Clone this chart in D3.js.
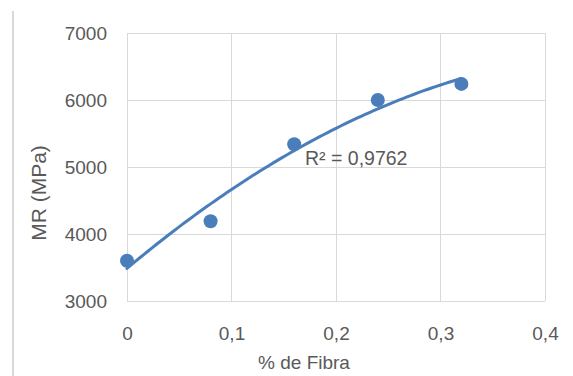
<!DOCTYPE html>
<html><head><meta charset="utf-8">
<script src="https://cdn.jsdelivr.net/npm/d3@7"></script>
<style>
html,body{margin:0;padding:0;background:#fff;}
text{font-family:"Liberation Sans",Arial,sans-serif;fill:#595959;}
</style></head>
<body><svg id="c" width="573" height="376"></svg>
<script>
const fibra = [0, 0.08, 0.16, 0.24, 0.32];
const mr = [3600, 4190, 5340, 6000, 6240];
const xTicks = [0, 0.1, 0.2, 0.3, 0.4];
const yTicks = [3000, 4000, 5000, 6000, 7000];
const r2Label = "R² = 0,9762";
const xTitle = "% de Fibra";
const yTitle = "MR (MPa)";

const svg = d3.select("#c");
const x = d3.scaleLinear().domain([0, 0.4]).range([127, 545]);
const y = d3.scaleLinear().domain([3000, 7000]).range([301, 33]);
const fmt = d => String(d).replace(".", ",");
const blue = "#4a7ebb", grid = "#d9d9d9";

// chart border fragment on the left
svg.append("line").attr("x1",13).attr("x2",13).attr("y1",11).attr("y2",376)
  .attr("stroke","#d9d9d9").attr("stroke-width",2);

// gridlines
svg.append("g").selectAll("line").data(yTicks).join("line")
  .attr("x1", x(0)).attr("x2", x(0.4)).attr("y1", d=>y(d)).attr("y2", d=>y(d))
  .attr("stroke", grid).attr("stroke-width",1).attr("shape-rendering","crispEdges");
svg.append("g").selectAll("line").data(xTicks).join("line")
  .attr("x1", d=>x(d)).attr("x2", d=>x(d)).attr("y1", y(3000)).attr("y2", y(7000))
  .attr("stroke", grid).attr("stroke-width",1).attr("shape-rendering","crispEdges");

// axes labels
const xAxis = d3.axisBottom(x).tickValues(xTicks).tickFormat(fmt).tickSize(0).tickPadding(0);
const gx = svg.append("g").attr("transform", `translate(0,${y(3000)})`).call(xAxis);
gx.select(".domain").remove();
gx.selectAll("text").attr("dy", null).attr("y", 39).attr("font-size", 19)
  .style("font-family", '"Liberation Sans",Arial,sans-serif').attr("fill","#595959");

const yAxis = d3.axisLeft(y).tickValues(yTicks).tickFormat(d=>String(d)).tickSize(0).tickPadding(0);
const gy = svg.append("g").attr("transform", `translate(${x(0)},0)`).call(yAxis);
gy.select(".domain").remove();
gy.selectAll("text").attr("x", -20).attr("dy", "0.35em").attr("font-size", 19)
  .style("font-family", '"Liberation Sans",Arial,sans-serif').attr("fill","#595959");

// titles
svg.append("text").attr("x", 304).attr("y", 369).attr("text-anchor","middle")
  .attr("font-size", 19).text(xTitle);
svg.append("text").attr("transform","translate(46,193) rotate(-90)")
  .attr("text-anchor","middle").attr("font-size", 21).text(yTitle);

// quadratic trendline (least squares fit of the data)
function polyfit2(xs, ys){
  let S=[0,0,0,0,0], T=[0,0,0];
  xs.forEach((xv,i)=>{ for(let k=0;k<5;k++) S[k]+=Math.pow(xv,k); for(let k=0;k<3;k++) T[k]+=ys[i]*Math.pow(xv,k); });
  const A=[[S[0],S[1],S[2],T[0]],[S[1],S[2],S[3],T[1]],[S[2],S[3],S[4],T[2]]];
  for(let i=0;i<3;i++){ for(let j=i+1;j<3;j++){ const f=A[j][i]/A[i][i]; for(let k=i;k<4;k++) A[j][k]-=f*A[i][k]; } }
  const c=[0,0,0];
  for(let i=2;i>=0;i--){ let s=A[i][3]; for(let k=i+1;k<3;k++) s-=A[i][k]*c[k]; c[i]=s/A[i][i]; }
  return c;
}
const co = polyfit2(fibra, mr);
const xs = d3.range(0, 0.3201, 0.004);
const line = d3.line().x(d=>x(d)).y(d=>y(co[0]+co[1]*d+co[2]*d*d)).curve(d3.curveLinear);
svg.append("path").datum(xs).attr("d", line).attr("fill","none")
  .attr("stroke", blue).attr("stroke-width", 3).attr("stroke-linecap","round");

// points
svg.append("g").selectAll("circle").data(fibra).join("circle")
  .attr("cx", d=>x(d)).attr("cy", (d,i)=>y(mr[i])).attr("r", 7).attr("fill", blue);

// R² label
svg.append("text").attr("x", 305).attr("y", 165).attr("font-size", 19.5).text(r2Label);
</script></body></html>
